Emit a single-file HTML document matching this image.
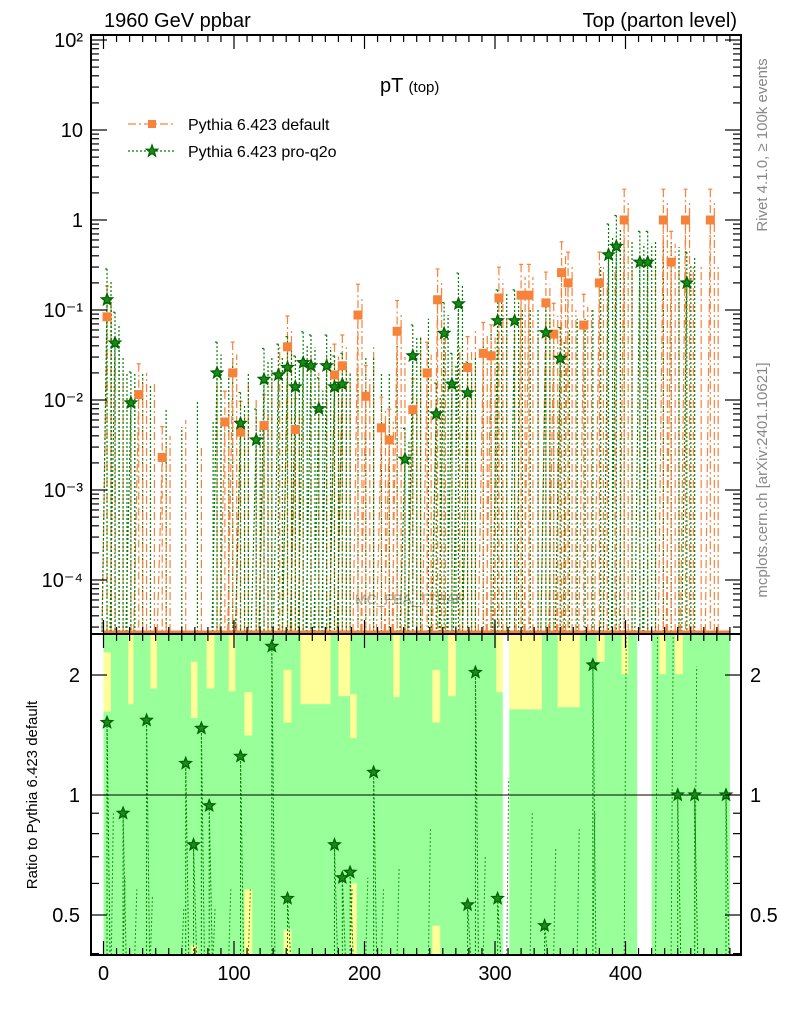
<!DOCTYPE html>
<html><head><meta charset="utf-8"><style>
body{margin:0;background:#fff;}
svg{display:block;font-family:"Liberation Sans",sans-serif;}
</style></head><body>
<svg id="c" width="786" height="1024" xmlns="http://www.w3.org/2000/svg">
<text x="104" y="27" font-size="20">1960 GeV ppbar</text>
<text x="737" y="27" font-size="20" text-anchor="end">Top (parton level)</text>
<text x="380" y="92" font-size="20">pT <tspan font-size="15">(top)</tspan></text>
<text x="355" y="604" font-size="14" fill="#aaa">MC_FBA_TTBAR</text>
<g>
<g>
<line x1="128" y1="124" x2="176" y2="124" stroke="#f7823a" stroke-width="1.3" stroke-dasharray="8,3,2,3"/>
<rect x="148" y="120" width="8" height="8" fill="#f7823a"/>
<text x="188" y="130" font-size="16">Pythia 6.423 default</text></g>
<g>
<line x1="128" y1="151" x2="176" y2="151" stroke="#008000" stroke-width="1.3" stroke-dasharray="2,2"/>
<polygon points="152,145 153.5,149.2 157.7,149.2 154.4,151.8 155.6,156 152,153.5 148.4,156 149.6,151.8 146.3,149.2 150.5,149.2" fill="#1a8a1a" stroke="#006400" stroke-width="1.2"/>
<text x="188" y="157" font-size="16">Pythia 6.423 pro-q2o</text></g>
</g>
<text transform="translate(767,145) rotate(-90)" font-size="15" fill="#888" text-anchor="middle">Rivet 4.1.0, ≥ 100k events</text>
<text transform="translate(767,480) rotate(-90)" font-size="15" fill="#888" text-anchor="middle">mcplots.cern.ch [arXiv:2401.10621]</text>
<text transform="translate(37,795) rotate(-90)" font-size="15" text-anchor="middle">Ratio to Pythia 6.423 default</text>
<g id="g"></g>
</svg>
<script>
// data
const defX=[2.7,27,45,93,99,105,123,141,147,177,183,195,201,213,219,225,237,248,256,279,291,297,303,320,326,339,345,351,356,368,380,399,429,435,446,465];
const defY=[0.084,0.0115,0.0023,0.0057,0.02,0.0044,0.0052,0.039,0.0047,0.019,0.024,0.088,0.011,0.0049,0.0036,0.058,0.0078,0.02,0.13,0.023,0.033,0.031,0.136,0.146,0.146,0.12,0.054,0.26,0.2,0.068,0.2,1.0,1.0,0.34,1.0,1.0];
const proX=[2.7,8.8,21,87,105,117,123,134,141,147,153,159,165,171,177,183,231,237,255,261,267,272,279,302,315,339,350,387,393,411,417,447];
const proY=[0.13,0.043,0.0093,0.02,0.0055,0.0036,0.017,0.019,0.023,0.014,0.026,0.024,0.008,0.024,0.014,0.015,0.0022,0.031,0.007,0.055,0.015,0.117,0.012,0.076,0.076,0.056,0.029,0.41,0.51,0.34,0.34,0.2];
// upper error edges of empty bins
const defEmptyX=[9,15,21,33,39,51,63,75,87,111,117,129,135,153,159,165,171,189,207,231,243,262,267,273,285,309,315,333,362,374,386,392,405,411,417,423,441,452,458,471];
const defEmptyTop=[0.03,0.02,0.012,0.02,0.015,0.004,0.006,0.003,0.02,0.015,0.01,0.02,0.04,0.03,0.03,0.02,0.03,0.02,0.04,0.03,0.05,0.05,0.03,0.04,0.06,0.08,0.1,0.05,0.1,0.1,0.2,0.3,0.3,0.2,0.3,0.3,0.3,0.3,0.3,0.3];
const proEmptyX=[6,12,15,18,24,30,36,48,60,72,84,90,96,99,111,129,189,195,201,207,213,219,225,243,249,285,291,297,309,321,327,333,345,357,363,369,375,381,399,405,423,429,435,441,453];
const proEmptyTop=[0.1,0.05,0.03,0.02,0.02,0.02,0.015,0.008,0.005,0.01,0.006,0.02,0.02,0.03,0.02,0.03,0.02,0.02,0.03,0.03,0.02,0.02,0.04,0.05,0.08,0.03,0.05,0.06,0.15,0.1,0.1,0.1,0.06,0.06,0.08,0.08,0.1,0.3,0.5,0.6,0.6,0.6,0.6,0.5,0.4];
const ratioX=[2.7,15,33,63,69,75,81,105,129,141,177,183,189,207,279,285,302,338,375,440,453,477];
const ratioY=[1.52,0.90,1.54,1.2,0.75,1.47,0.94,1.25,2.36,0.55,0.75,0.62,0.64,1.14,0.53,2.03,0.55,0.47,2.12,1,1,1];
const bandLo=[0,306,409];
const bandHi=[306,409,480];
const gapLo=[306,409], gapHi=[311,420];
const yelLo=[0,19,36,67,79,96,108,138,151,180,189,222,252,264,301,311,348,378,397,426,438,444];
const yelHi=[5.7,23,41,72,85,101,114,144,174,189,194,227,258,270,306,336,365,384,402,431,444,480];
const yelTop=[2.28,2.52,2.52,2.16,2.52,2.52,1.81,2.06,2.52,2.52,1.79,2.52,2.06,2.52,2.52,2.52,2.52,2.52,2.52,2.52,2.52,2.44];
const yelBot=[1.62,1.69,1.85,1.56,1.85,1.82,1.41,1.52,1.69,1.77,1.39,1.76,1.52,1.77,1.81,1.64,1.66,2.16,2.01,2.01,2.01,2.44];
const lowYelLo=[67,108,138,189,252], lowYelHi=[72,114,144,194,258], lowYelTop=[0.42,0.58,0.46,0.60,0.47];
const xTicks=[0,100,200,300,400];
const mainTicks=[2,1,0,-1,-2,-3,-4];
const mainTickLbl=["10²","10","1","10⁻¹","10⁻²","10⁻³","10⁻⁴"];
const ratioTicks=[2,1,0.5];
const ratioTickLbl=["2","1","0.5"];

const L=91,R=741,T=35,MB=634,RB=955;
const X=v=>103.5+1.305*v;
const Y=v=>220-90*Math.log10(v);
const RY=r=>795-398.6*Math.log10(r);
const g=document.getElementById('g');
const NS='http://www.w3.org/2000/svg';
function mk(t,a){const e=document.createElementNS(NS,t);for(const k in a)e.setAttribute(k,a[k]);g.appendChild(e);return e;}
const clampR=r=>Math.min(Math.max(RY(r),MB),RB);

for(let i=0;i<bandLo.length;i++){const e=mk('rect',{x:X(bandLo[i]),y:clampR(2.52),width:X(bandHi[i])-X(bandLo[i]),height:RB-clampR(2.52),fill:'#99ff99'});

}
for(let i=0;i<yelLo.length;i++){const e=mk('rect',{x:X(yelLo[i]),y:clampR(yelTop[i]),width:X(yelHi[i])-X(yelLo[i]),height:clampR(yelBot[i])-clampR(yelTop[i]),fill:'#ffff99'});

}
for(let i=0;i<lowYelLo.length;i++){const e=mk('rect',{x:X(lowYelLo[i]),y:clampR(lowYelTop[i]),width:X(lowYelHi[i])-X(lowYelLo[i]),height:RB-clampR(lowYelTop[i]),fill:'#ffff99'});

}
for(let i=0;i<gapLo.length;i++){const e=mk('rect',{x:X(gapLo[i]),y:MB,width:X(gapHi[i])-X(gapLo[i]),height:RB-MB,fill:'#fff'});

}

let rx='';proEmptyX.forEach((v,i)=>{if(i%2===0)rx+=`M${X(v)},${RB}L${X(v)+2},${clampR(0.5+proEmptyTop[i]*4)}`;});
const rxl=mk('path',{d:rx,stroke:'#008000','stroke-width':1,'stroke-dasharray':'2,2',fill:'none',opacity:0.8});


let rp='';ratioX.forEach((v,i)=>{rp+=`M${X(v)},${RB}L${X(v)},${RY(ratioY[i])}L${X(v)+3},${RB}`;});
const rl=mk('path',{d:rp,stroke:'#008000','stroke-width':1,'stroke-dasharray':'2,2',fill:'none'});


const refl=mk('line',{x1:L,x2:R,y1:RY(1),y2:RY(1),stroke:'#000','stroke-width':1});


function star(cx,cy,name){const pts=[];for(let k=0;k<10;k++){const a=-Math.PI/2+k*Math.PI/5,r=k%2?2.6:6;pts.push((cx+r*Math.cos(a)).toFixed(1)+','+(cy+r*Math.sin(a)).toFixed(1));}
const e=mk('polygon',{points:pts.join(' '),fill:'#1a8a1a',stroke:'#006400','stroke-width':1.3});

}
ratioX.forEach((v,i)=>star(X(v),RY(ratioY[i]),'ratio-point'));

const bot=MB-2;
function empties(xs,tops,color,dash,name){
 let p='';xs.forEach((v,i)=>{const x=X(v),up=Y(tops[i]);p+=`M${x},${bot}L${x},${up}`;});
 const e=mk('path',{d:p,stroke:color,'stroke-width':1.2,'stroke-dasharray':dash,fill:'none'});
 
 
}
function series(xs,ys,color,dash,name){
 let p='';xs.forEach((v,i)=>{const x=X(v),y=Y(ys[i]),up=Y(ys[i]*2.2);
  p+=`M${x-5},${bot}L${x},${y}M${x},${up}L${x},${bot}M${x-2},${up}L${x+2},${up}M${x+4},${bot}L${x+4},${Y(ys[i]*1.6)}`;});
 const e=mk('path',{d:p,stroke:color,'stroke-width':1.2,'stroke-dasharray':dash,fill:'none'});
 
 
}
empties(defEmptyX,defEmptyTop,'#f7823a','8,3,2,3','default');
empties(proEmptyX,proEmptyTop,'#008000','2,2','pro-q2o');
series(defX,defY,'#f7823a','8,3,2,3','default');
series(proX,proY,'#008000','2,2','pro-q2o');
const bl=mk('line',{x1:X(0),x2:X(480),y1:MB-2,y2:MB-2,stroke:'#f7823a','stroke-width':3});


defX.forEach((v,i)=>{const e=mk('rect',{x:X(v)-4.5,y:Y(defY[i])-4.5,width:9,height:9,fill:'#f7823a'});

});
proX.forEach((v,i)=>star(X(v),Y(proY[i]),'pro-q2o-point'));

[[T,MB],[MB,RB]].forEach(([a,b])=>{const e=mk('rect',{x:L,y:a,width:R-L,height:b-a,fill:'none',stroke:'#000','stroke-width':2});

});

for(let v=-10;v<=480;v+=10){const x=X(v);if(x<L||x>R)continue;const big=v%100===0;const l=big?14:7;
 [[T,1],[MB,-1],[MB,1],[RB,-1]].forEach(([y0,s])=>mk('line',{x1:x,x2:x,y1:y0,y2:y0+s*l,stroke:'#000','stroke-width':1.2}));}
xTicks.forEach(v=>{const e=mk('text',{x:X(v),y:980,'font-size':20,'text-anchor':'middle'});e.textContent=v;

});
for(let d=-5;d<=2;d++)for(let m=1;m<10;m++){const v=m*Math.pow(10,d);const y=Y(v);if(y<T||y>MB)continue;const l=m===1?16:8;
 mk('line',{x1:L,x2:L+l,y1:y,y2:y,stroke:'#000','stroke-width':1.2});mk('line',{x1:R,x2:R-l,y1:y,y2:y,stroke:'#000','stroke-width':1.2});}
mainTicks.forEach((d,i)=>{const e=mk('text',{x:83,y:Y(Math.pow(10,d))+7,'font-size':20,'text-anchor':'end'});e.textContent=mainTickLbl[i];

});
[0.4,0.5,0.6,0.7,0.8,0.9,1,2].forEach(r=>{const y=RY(r);const big=(r===1||r===2||r===0.5);const l=big?16:8;
 mk('line',{x1:L,x2:L+l,y1:y,y2:y,stroke:'#000','stroke-width':1.2});mk('line',{x1:R,x2:R-l,y1:y,y2:y,stroke:'#000','stroke-width':1.2});});
ratioTicks.forEach((r,i)=>{const a=mk('text',{x:80,y:RY(r)+7,'font-size':20,'text-anchor':'end'});a.textContent=ratioTickLbl[i];


const b=mk('text',{x:750,y:RY(r)+7,'font-size':20});b.textContent=ratioTickLbl[i];

});
</script>
</body></html>
